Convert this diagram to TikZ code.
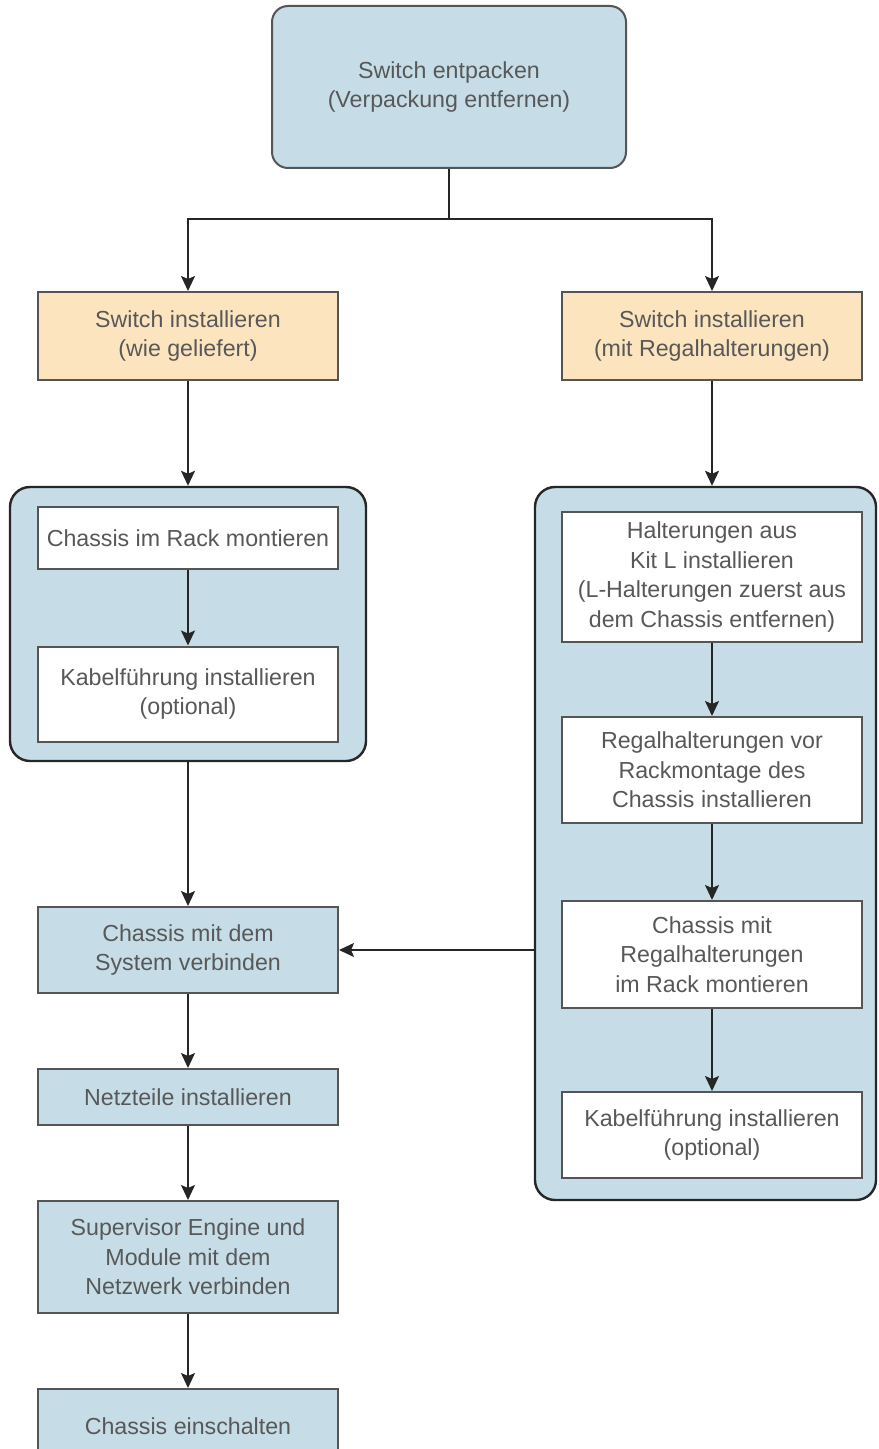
\documentclass[tikz,border=0pt]{standalone}
\usepackage{fontspec}
\setmainfont{Liberation Sans}
\usetikzlibrary{arrows.meta}

\definecolor{stepblue}{RGB}{198,221,231}
\definecolor{steporange}{RGB}{252,229,190}
\definecolor{linegray}{RGB}{85,85,85}
\definecolor{textgray}{RGB}{88,88,88}

\begin{document}
\begin{tikzpicture}[x=0.5pt, y=-0.5pt,
    box/.style={draw=linegray, line width=1pt, align=center, text=textgray,
      inner sep=0pt, font=\fontsize{11.6}{14.8}\selectfont},
    bluebox/.style={box, fill=stepblue, minimum width=150pt},
    orangebox/.style={box, fill=steporange, minimum width=150pt, minimum height=44pt},
    whitebox/.style={box, fill=white, minimum width=150pt},
    groupbox/.style={draw=black!85, line width=1.2pt, fill=stepblue, rounded corners=10pt, inner sep=0pt},
    flow/.style={draw=black!85, line width=0.9pt, -{Stealth[length=7.5pt,width=7pt,inset=1.5pt]}}]

   \clip (0,0) rectangle (878,1449);

   % start
   \node [bluebox, rounded corners=8pt, minimum width=177pt, minimum height=81pt]
      (top) at (449,87) {Switch entpacken\\(Verpackung entfernen)};
   \coordinate (j) at (449,219);

   % two ways
   \node [orangebox] (oL) at (188,336) {Switch installieren\\(wie geliefert)};
   \node [orangebox] (oR) at (712,336) {Switch installieren\\(mit Regalhalterungen)};

   % groups
   \node [groupbox, minimum width=178pt, minimum height=137pt] (gL) at (188,624) {};
   \node [groupbox, minimum width=170.5pt, minimum height=356.5pt] (gR) at (705.5,843.5) {};

   \foreach \n/\y/\h/\t in {l1/538/31/{Chassis im Rack montieren},
                            l2/694/47.5/{Kabelführung installieren\\(optional)}}
     \node [whitebox, minimum height=\h pt] (\n) at (188,\y) {\t};

   \foreach \n/\y/\h/\t in {r1/577/65/{Halterungen aus\\Kit L installieren\\(L-Halterungen zuerst aus\\dem Chassis entfernen)},
                            r2/770/53/{Regalhalterungen vor\\Rackmontage des\\Chassis installieren},
                            r3/954.5/53.5/{Chassis mit\\Regalhalterungen\\im Rack montieren},
                            r4/1135/43/{Kabelführung installieren\\(optional)}}
     \node [whitebox, minimum height=\h pt] (\n) at (712,\y) {\t};

   % main line
   \foreach \n/\y/\h/\t in {c1/950/43/{Chassis mit dem\\System verbinden},
                            c2/1097/28/{Netzteile installieren},
                            c3/1257/56/{Supervisor Engine und\\Module mit dem\\Netzwerk verbinden},
                            c4/1426/37/{Chassis einschalten}}
     \node [bluebox, minimum height=\h pt] (\n) at (188,\y) {\t};

   \draw [draw=black!85, line width=0.9pt] (top) -- (j);
   \draw [flow] (j) -| (oL);
   \draw [flow] (j) -| (oR);

   \foreach \i/\j in {oL/gL, l1/l2, gL/c1, c1/c2, c2/c3, c3/c4, oR/gR, r1/r2, r2/r3, r3/r4}
     \draw [flow] (\i) -- (\i |- \j.north);

   \draw [flow] (c1.east -| gR.west) -- (c1.east);

\end{tikzpicture}
\end{document}
